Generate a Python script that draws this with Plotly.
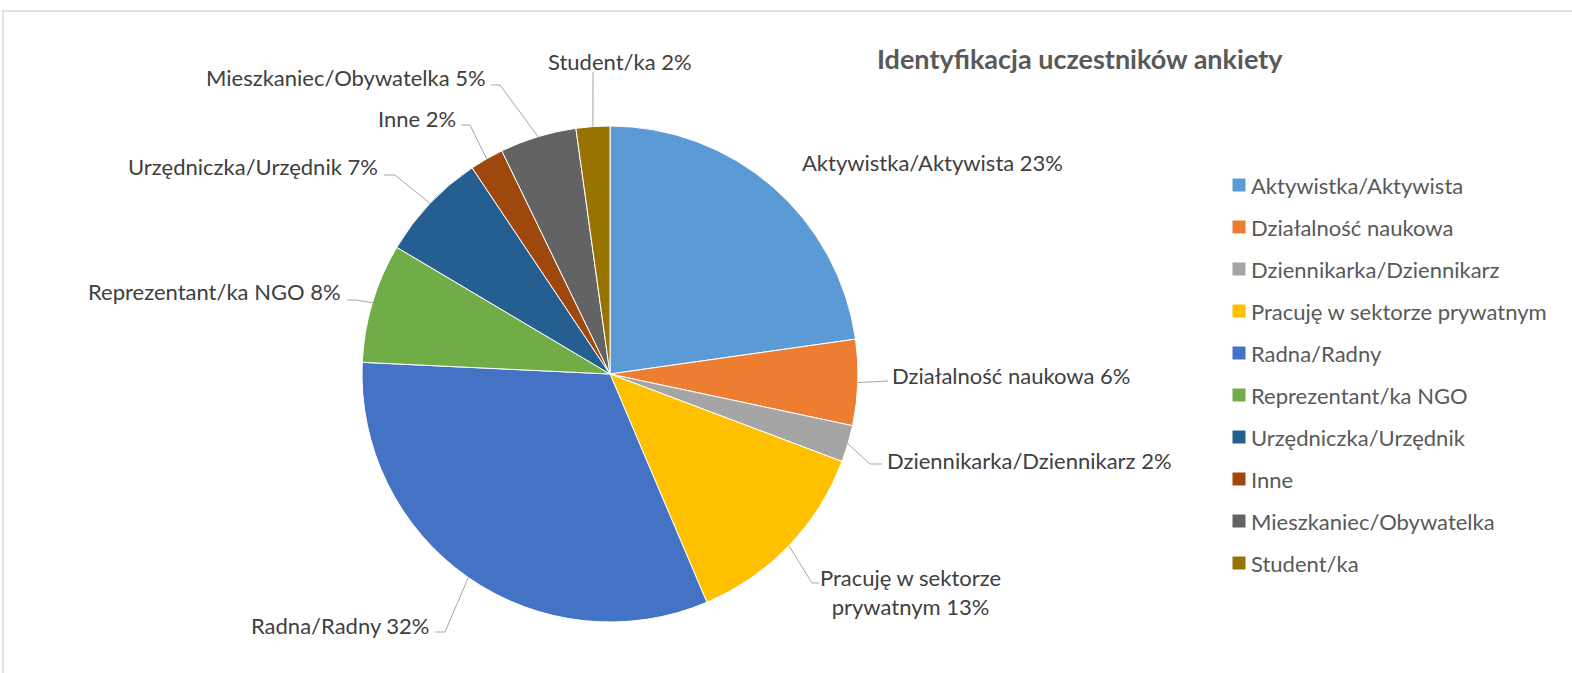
import math
import plotly.graph_objects as go

# ---- data ----
categories = [
    "Aktywistka/Aktywista", "Działalność naukowa", "Dziennikarka/Dziennikarz",
    "Pracuję w sektorze prywatnym", "Radna/Radny", "Reprezentant/ka NGO",
    "Urzędniczka/Urzędnik", "Inne", "Mieszkaniec/Obywatelka", "Student/ka",
]
values = [22.8, 5.6, 2.4, 12.9, 32.2, 7.8, 7.1, 2.2, 5.0, 2.2]
label_names = [
    "Aktywistka/Aktywista", "Działalność naukowa", "Dziennikarka/Dziennikarz",
    "Pracuję w sektorze<br>prywatnym", "Radna/Radny", "Reprezentant/ka NGO",
    "Urzędniczka/Urzędnik", "Inne", "Mieszkaniec/Obywatelka", "Student/ka",
]
colors = ["#5B9BD5", "#ED7D31", "#A5A5A5", "#FFC000", "#4472C4",
          "#70AD47", "#255E91", "#9E480E", "#636363", "#997300"]
title = "Identyfikacja uczestników ankiety"

# ---- layout constants ----
W, H = 1572, 673
CX, CY, R = 610, 374, 248
FONT = "Lato"
LABEL_SIZE = 22

# label text anchors (px) and leader elbows (px)
label_pos = [
    (800, 162, "left"), (890, 375, "left"), (885, 460, "left"),
    (910, 592, "center"), (432, 625, "right"), (343, 291, "right"),
    (380, 166, "right"), (458, 118, "right"), (488, 77, "right"),
    (620, 61, "center"),
]
leader_pts = [
    None,
    [(888, 381)],
    [(870, 464), (882, 464)],
    [(812, 583), (819, 583)],
    [(445, 632), (436, 632)],
    [(356, 300), (347, 300)],
    [(395, 175), (384, 175)],
    [(470, 125), (461, 125)],
    [(500, 85), (491, 85)],
    [(593, 72)],
]


def px(x):
    return x / W


def py(y):
    return 1 - y / H


fig = go.Figure(go.Pie(
    labels=categories, values=values, sort=False, direction="clockwise",
    rotation=0, textinfo="none", hoverinfo="label+percent",
    marker=dict(colors=colors, line=dict(color="white", width=1)),
    domain=dict(x=[px(CX - R), px(CX + R)], y=[py(CY + R), py(CY - R)]),
    showlegend=False,
))

total = sum(values)
annotations = []
shapes = []
cum = 0.0
for i, v in enumerate(values):
    mid = (cum + v / 2) / total * 2 * math.pi
    cum += v
    ex, ey = CX + R * math.sin(mid), CY - R * math.cos(mid)
    pct = round(v / total * 100)
    lx, ly, anc = label_pos[i]
    annotations.append(dict(
        x=px(lx), y=py(ly), xref="paper", yref="paper", xanchor=anc,
        yanchor="middle", showarrow=False, align="center",
        text=f"{label_names[i]} {pct}%",
        font=dict(family=FONT, size=LABEL_SIZE, color="#404040"),
    ))
    if leader_pts[i]:
        pts = [(ex, ey)] + leader_pts[i]
        path = "M " + " L ".join(f"{px(a)},{py(b)}" for a, b in pts)
        shapes.append(dict(type="path", xref="paper", yref="paper", path=path,
                           line=dict(color="#A6A6A6", width=1)))

# legend (manual, to match spacing)
LEG_X, LEG_Y0, LEG_DY, SQ = 1239, 185, 42, 13
for i, name in enumerate(categories):
    y = LEG_Y0 + i * LEG_DY
    shapes.append(dict(type="rect", xref="paper", yref="paper",
                       x0=px(LEG_X - SQ / 2), x1=px(LEG_X + SQ / 2),
                       y0=py(y + SQ / 2), y1=py(y - SQ / 2),
                       fillcolor=colors[i], line=dict(width=0)))
    annotations.append(dict(
        x=px(LEG_X + 10), y=py(y), xref="paper", yref="paper", xanchor="left",
        yanchor="middle", showarrow=False, text=name,
        font=dict(family=FONT, size=LABEL_SIZE, color="#595959"),
    ))

# title
annotations.append(dict(
    x=px(1080), y=py(58), xref="paper", yref="paper", xanchor="center",
    yanchor="middle", showarrow=False, text=f"<b>{title}</b>",
    font=dict(family=FONT, size=27, color="#595959"),
))

# chart border (top and left edges visible)
shapes.append(dict(type="path", xref="paper", yref="paper",
                   path=f"M {px(3)},{py(H)} L {px(3)},{py(11)} L {px(W)},{py(11)}",
                   line=dict(color="#D9D9D9", width=1.5)))

fig.update_layout(
    width=W, height=H, margin=dict(l=0, r=0, t=0, b=0),
    paper_bgcolor="white", plot_bgcolor="white",
    annotations=annotations, shapes=shapes,
)

fig.write_html("out.html", config={"displayModeBar": False},
               post_script="document.body.style.margin='0px';document.body.style.overflow='hidden';")
